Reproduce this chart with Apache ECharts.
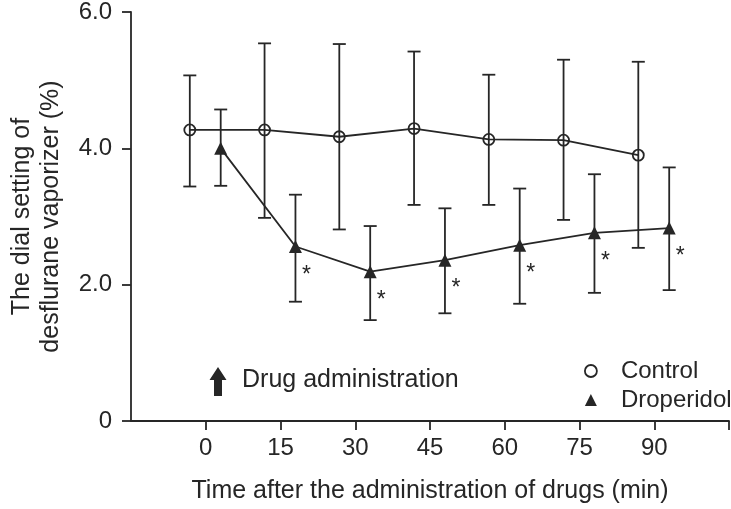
<!DOCTYPE html>
<html>
<head>
<meta charset="utf-8">
<script src="https://cdn.jsdelivr.net/npm/echarts@6/dist/echarts.min.js"></script>
<style>
html,body{margin:0;padding:0;background:#fff;}
#chart{width:731px;height:509px;}
</style>
</head>
<body>
<div id="chart"></div>
<script>
// ---- data ----
const times = [0, 15, 30, 45, 60, 75, 90];
const xTickLabels = ['0', '15', '30', '45', '60', '75', '90'];
const yTickLabels = ['0', '2.0', '4.0', '6.0'];
const controlMean = [4.27, 4.27, 4.17, 4.29, 4.13, 4.12, 3.90];
const controlHigh = [5.07, 5.54, 5.53, 5.42, 5.08, 5.30, 5.27];
const controlLow  = [3.44, 2.98, 2.81, 3.17, 3.17, 2.95, 2.54];
const dropMean = [4.00, 2.56, 2.19, 2.36, 2.58, 2.76, 2.83];
const dropHigh = [4.57, 3.32, 2.86, 3.12, 3.41, 3.62, 3.72];
const dropLow  = [3.45, 1.75, 1.48, 1.58, 1.72, 1.88, 1.92];
const dropSig  = ['', '*', '*', '*', '*', '*', '*'];

// ---- styling ----
const INK = '#262626';
const FONT = 'Liberation Sans, Arial, Helvetica, sans-serif';
const CONTROL_SHIFT = -3.2;   // horizontal dodge (minutes) so bars don't overlap
const DROP_SHIFT = 3;

const chart = echarts.init(document.getElementById('chart'), null, {renderer: 'canvas'});

function errorBarSeries(name, means, lows, highs, shift) {
  return {
    type: 'custom',
    name: name + ' SD',
    silent: true,
    z: 1,
    data: times.map((t, i) => [t + shift, lows[i], highs[i]]),
    renderItem: function (params, api) {
      const x = api.value(0);
      const lo = api.coord([x, api.value(1)]);
      const hi = api.coord([x, api.value(2)]);
      const hw = 6.5;
      const st = {stroke: INK, lineWidth: 1.8};
      return {
        type: 'group',
        children: [
          {type: 'line', shape: {x1: lo[0], y1: lo[1], x2: hi[0], y2: hi[1]}, style: st},
          {type: 'line', shape: {x1: hi[0] - hw, y1: hi[1], x2: hi[0] + hw, y2: hi[1]}, style: st},
          {type: 'line', shape: {x1: lo[0] - hw, y1: lo[1], x2: lo[0] + hw, y2: lo[1]}, style: st}
        ]
      };
    }
  };
}

const option = {
  animation: false,
  backgroundColor: '#fff',
  textStyle: {fontFamily: FONT, color: INK},
  grid: {left: 123, right: 2, top: 10, bottom: 88, containLabel: false},
  xAxis: {
    type: 'value',
    min: -15, max: 105, interval: 15,
    name: 'Time after the administration of drugs (min)',
    nameLocation: 'middle',
    nameGap: 58,
    nameTextStyle: {fontSize: 25, color: INK, fontFamily: FONT},
    axisLine: {onZero: false, lineStyle: {color: INK, width: 1.8}},
    axisTick: {show: true, length: 9, inside: false, lineStyle: {color: INK, width: 1.8},
               customValues: times.concat([105])},
    axisLabel: {fontSize: 24, color: INK, margin: 15, fontFamily: FONT,
                customValues: times,
                formatter: function (v) { const i = times.indexOf(v); return i >= 0 ? xTickLabels[i] : ''; }},
    splitLine: {show: false}
  },
  yAxis: {
    type: 'value',
    min: 0, max: 6, interval: 2,
    name: 'The dial setting of\ndesflurane vaporizer (%)',
    nameLocation: 'middle',
    nameRotate: 90,
    nameGap: 65,
    nameTextStyle: {fontSize: 25, color: INK, lineHeight: 29, fontFamily: FONT},
    axisLine: {show: true, onZero: false, lineStyle: {color: INK, width: 1.8}},
    axisTick: {show: true, length: 9, inside: false, lineStyle: {color: INK, width: 1.8}},
    axisLabel: {fontSize: 24, color: INK, margin: 19, fontFamily: FONT,
                formatter: function (v) { return yTickLabels[Math.round(v / 2)]; }},
    splitLine: {show: false}
  },
  legend: {
    orient: 'vertical',
    left: 579, top: 354,
    itemWidth: 12, itemHeight: 12,
    itemGap: 5,
    textStyle: {fontSize: 24, color: INK, fontFamily: FONT, padding: [0, 0, 0, 19]},
    data: [
      {name: 'Control', icon: 'circle', itemStyle: {color: '#fff', borderColor: INK, borderWidth: 1.8}},
      {name: 'Droperidol', icon: 'triangle', itemStyle: {color: INK}}
    ]
  },
  graphic: [
    {
      type: 'polygon',
      shape: {points: [[218, 367], [226.5, 380], [222, 380], [222, 396], [214, 396], [214, 380], [209.5, 380]]},
      style: {fill: INK}
    },
    {
      type: 'text',
      left: 242, top: 368,
      style: {text: 'Drug administration', fontSize: 25, fill: INK, fontFamily: FONT}
    }
  ],
  series: [
    errorBarSeries('Control', controlMean, controlLow, controlHigh, CONTROL_SHIFT),
    errorBarSeries('Droperidol', dropMean, dropLow, dropHigh, DROP_SHIFT),
    {
      name: 'Control',
      type: 'line',
      z: 3,
      data: times.map((t, i) => [t + CONTROL_SHIFT, controlMean[i]]),
      symbol: 'circle',
      symbolSize: 11,
      showAllSymbol: true,
      lineStyle: {color: INK, width: 1.8},
      itemStyle: {color: 'rgba(0,0,0,0)', borderColor: INK, borderWidth: 1.8},
      emphasis: {disabled: true}
    },
    {
      name: 'Droperidol',
      type: 'line',
      z: 3,
      data: times.map((t, i) => ({
        value: [t + DROP_SHIFT, dropMean[i]],
        label: {show: dropSig[i] !== '', formatter: dropSig[i]}
      })),
      symbol: 'triangle',
      symbolSize: 13,
      showAllSymbol: true,
      lineStyle: {color: INK, width: 1.8},
      itemStyle: {color: INK},
      label: {position: 'inside', offset: [11, 29], fontSize: 23, color: INK, fontFamily: FONT},
      emphasis: {disabled: true}
    }
  ]
};

chart.setOption(option);
</script>
</body>
</html>
